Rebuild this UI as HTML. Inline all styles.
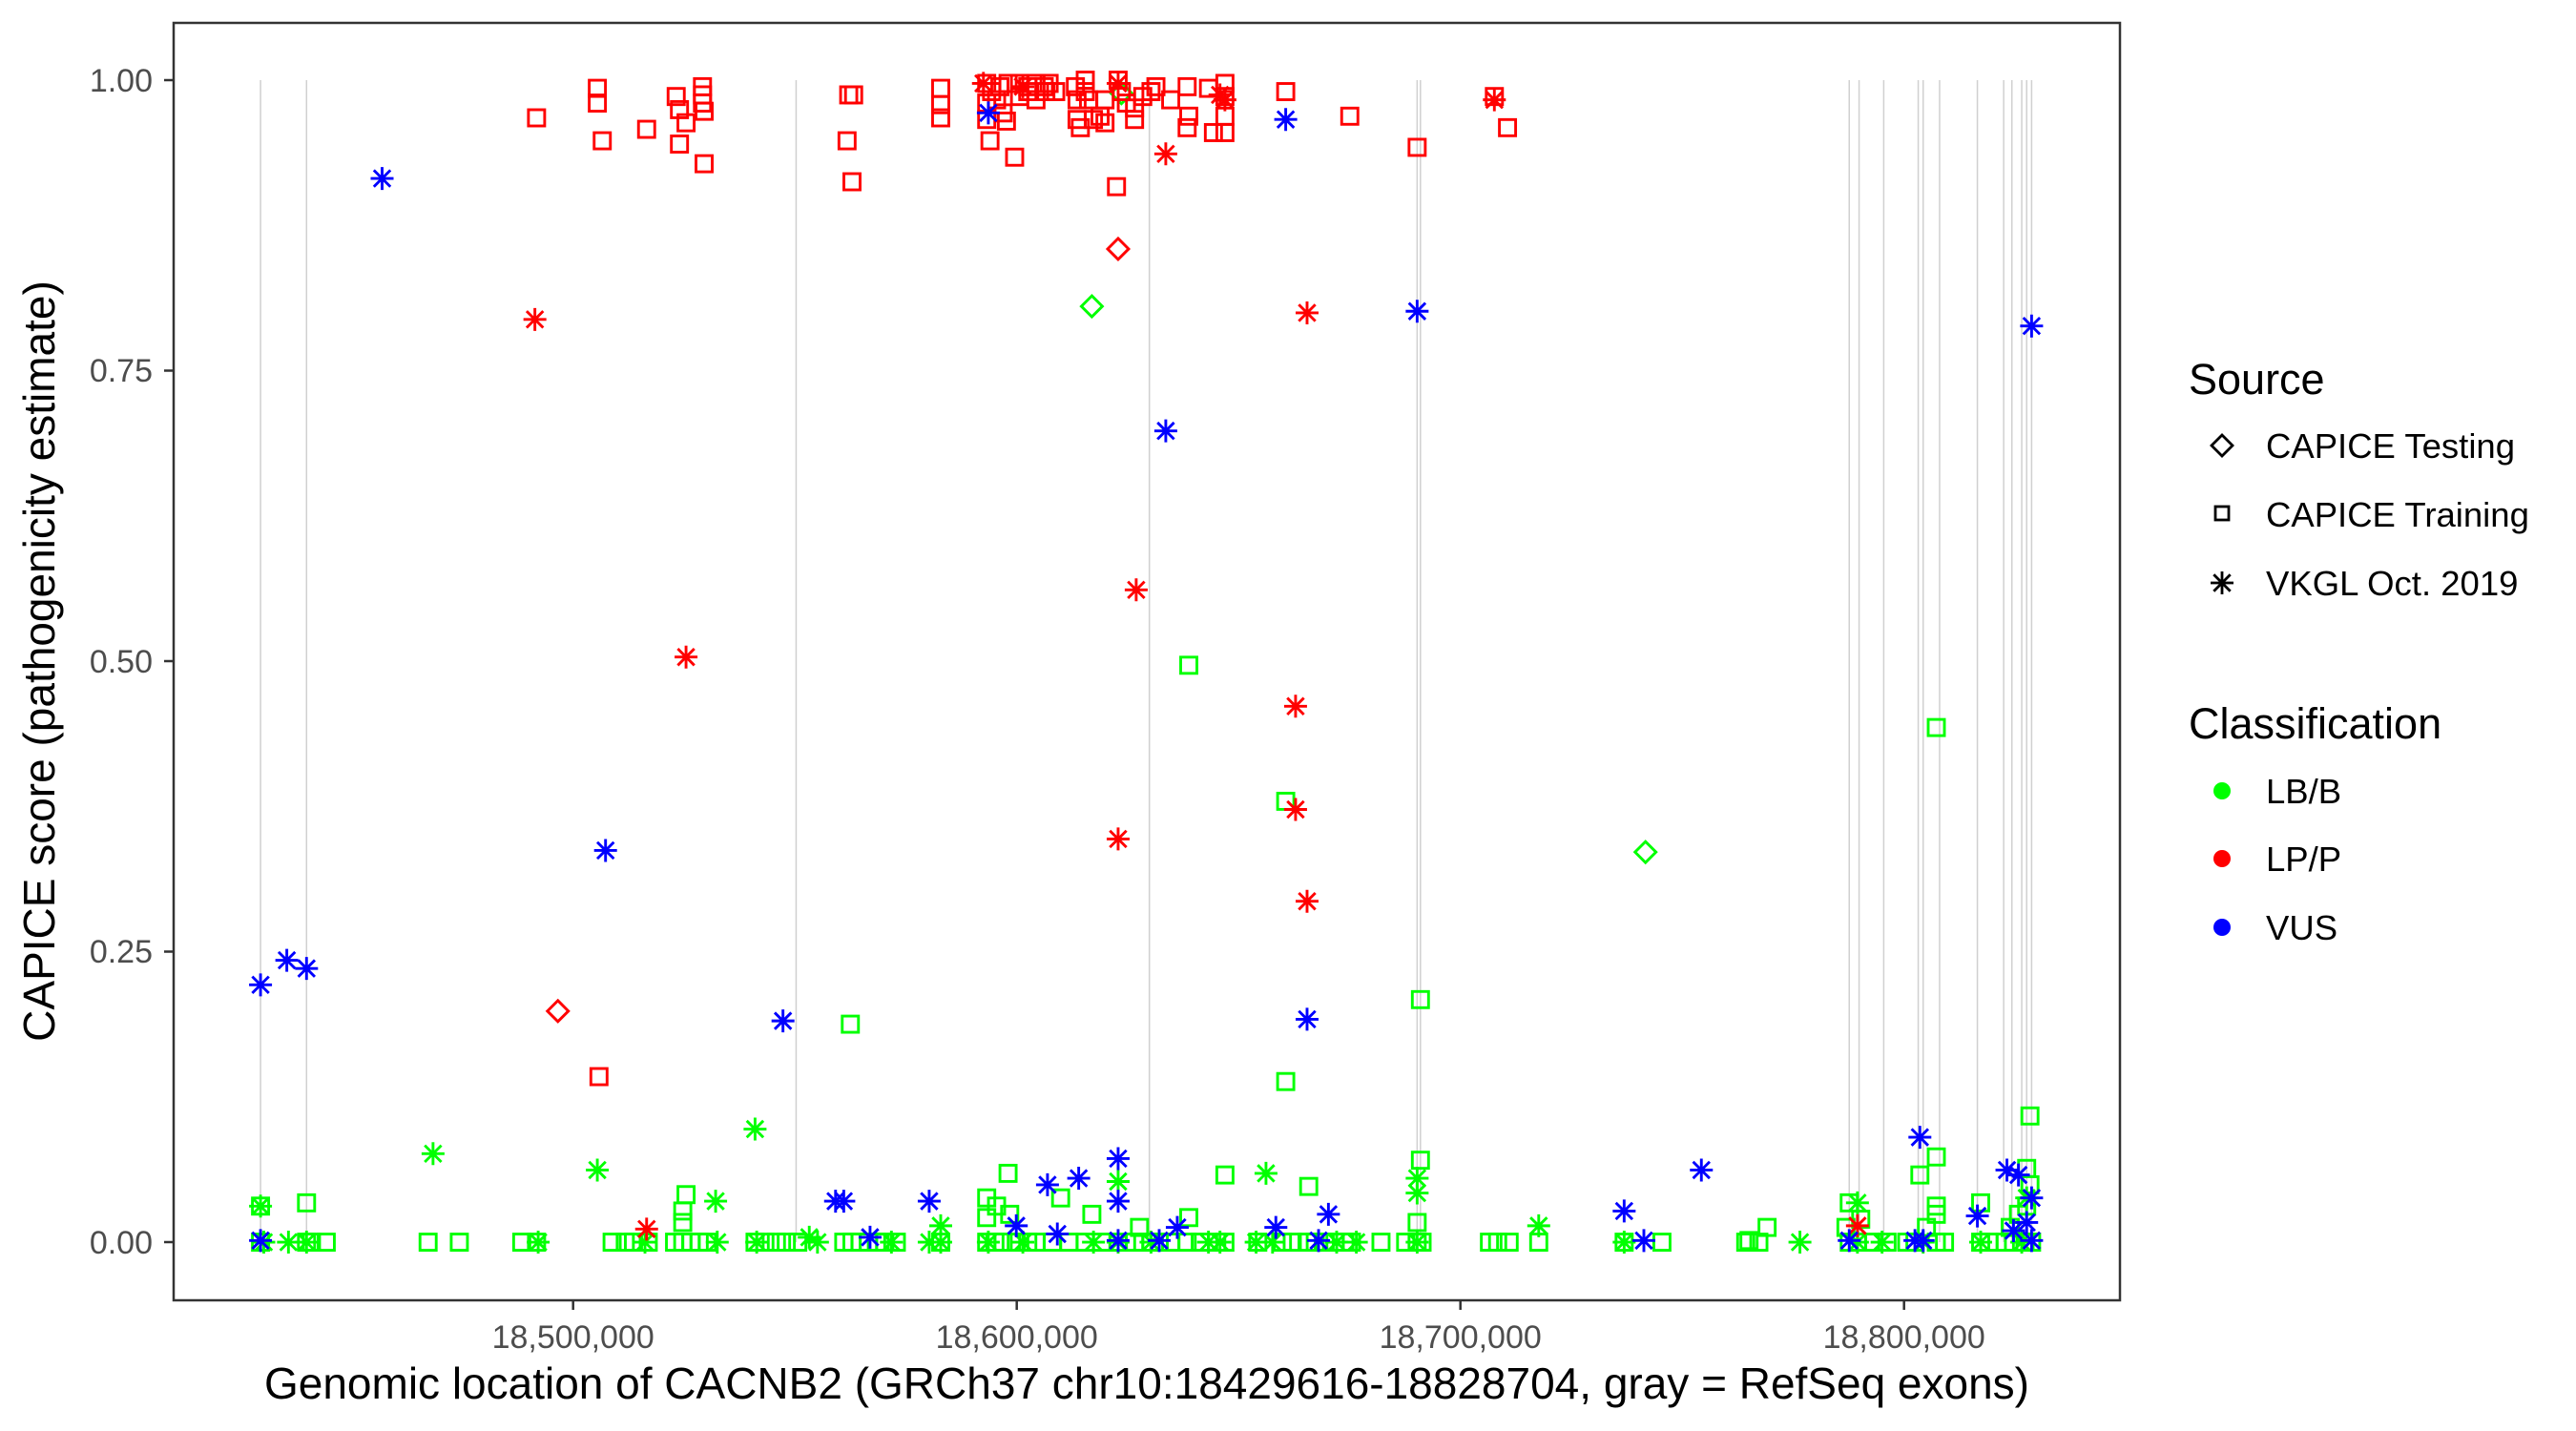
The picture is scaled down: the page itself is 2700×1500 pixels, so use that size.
<!DOCTYPE html>
<html><head><meta charset="utf-8"><style>
html,body{margin:0;padding:0;background:#fff;}
svg{display:block;font-family:"Liberation Sans",Arial,sans-serif;}
</style></head><body>
<svg id="s" width="2700" height="1500" viewBox="0 0 2700 1500" xmlns="http://www.w3.org/2000/svg">
<rect width="2700" height="1500" fill="#fff"/>
<g id="ex" stroke="#d0d0d0" stroke-width="1.5"></g>
<g id="pts" fill="none" stroke-width="2.9"></g>
<rect x="182" y="24" width="2040" height="1339" fill="none" stroke="#333" stroke-width="2.5"/>
<g stroke="#333" stroke-width="2.5">
<line x1="172" y1="84" x2="182" y2="84"/><line x1="172" y1="388.5" x2="182" y2="388.5"/><line x1="172" y1="693" x2="182" y2="693"/><line x1="172" y1="997.5" x2="182" y2="997.5"/><line x1="172" y1="1302" x2="182" y2="1302"/>
<line x1="600.7" y1="1363" x2="600.7" y2="1373"/><line x1="1065.7" y1="1363" x2="1065.7" y2="1373"/><line x1="1530.7" y1="1363" x2="1530.7" y2="1373"/><line x1="1995.7" y1="1363" x2="1995.7" y2="1373"/>
</g>
<g fill="#4d4d4d" font-size="34" text-anchor="end">
<text x="160" y="96">1.00</text><text x="160" y="400">0.75</text><text x="160" y="705">0.50</text><text x="160" y="1009">0.25</text><text x="160" y="1314">0.00</text>
</g>
<g fill="#4d4d4d" font-size="34" text-anchor="middle">
<text x="600.7" y="1413">18,500,000</text><text x="1065.7" y="1413">18,600,000</text><text x="1530.7" y="1413">18,700,000</text><text x="1995.7" y="1413">18,800,000</text>
</g>
<text x="1202" y="1466" font-size="46" text-anchor="middle" fill="#000">Genomic location of CACNB2 (GRCh37 chr10:18429616-18828704, gray = RefSeq exons)</text>
<text transform="translate(57,693) rotate(-90)" font-size="46" text-anchor="middle" fill="#000">CAPICE score (pathogenicity estimate)</text>
<g font-size="45" fill="#000"><text x="2294" y="413">Source</text><text x="2294" y="774">Classification</text></g>
<g font-size="36.5" fill="#000">
<text x="2375" y="480">CAPICE Testing</text><text x="2375" y="552">CAPICE Training</text><text x="2375" y="624">VKGL Oct. 2019</text>
<text x="2375" y="842">LB/B</text><text x="2375" y="913">LP/P</text><text x="2375" y="985">VUS</text>
</g>
<g id="leg" fill="none" stroke="#000" stroke-width="2.8"></g>
<circle cx="2329" cy="829" r="9" fill="#00ff00"/><circle cx="2329" cy="900" r="9" fill="#ff0000"/><circle cx="2329" cy="972" r="9" fill="#0000ff"/>
</svg>
<script>
var NS="http://www.w3.org/2000/svg";
function X(d){return d*1.722+1;}
function Y(d){return 84+(d-48)*1.718;}
function sq(g,x,y,c){var r=document.createElementNS(NS,"rect");r.setAttribute("x",x-8.5);r.setAttribute("y",y-8.5);r.setAttribute("width",17);r.setAttribute("height",17);r.setAttribute("stroke",c);g.appendChild(r);}
function di(g,x,y,c){var p=document.createElementNS(NS,"path");p.setAttribute("d","M"+x+","+(y-11)+"L"+(x+11)+","+y+"L"+x+","+(y+11)+"L"+(x-11)+","+y+"Z");p.setAttribute("stroke",c);g.appendChild(p);}
function as(g,x,y,c){var s=12,t=8.7,d="M"+(x-s)+","+y+"H"+(x+s)+"M"+x+","+(y-s)+"V"+(y+s)+"M"+(x-t)+","+(y-t)+"L"+(x+t)+","+(y+t)+"M"+(x-t)+","+(y+t)+"L"+(x+t)+","+(y-t);var p=document.createElementNS(NS,"path");p.setAttribute("d",d);p.setAttribute("stroke",c);g.appendChild(p);}
var ex=document.getElementById("ex");
[158,186,484,699,862,864,1125,1131,1146,1167,1170,1180,1203,1219,1224,1230,1233,1236].forEach(function(d){var l=document.createElementNS(NS,"line");var x=X(d);l.setAttribute("x1",x);l.setAttribute("x2",x);l.setAttribute("y1",84);l.setAttribute("y2",1302);ex.appendChild(l);});
var g=document.getElementById("pts");
var G="#00ff00",R="#ff0000",B="#0000ff";
var gsq=[[158,735],[186,733],[1178,443],[723,405],[782,488],[782,659],[864,609],[864,707],[517,624],[1235,680],[1168,716],[1178,705],[613,715],[745,716],[796,723],[417,728],[1125,733],[1075,748],[1233,712],[415,745],[415,738],[600,742],[606,735],[614,740],[664,740],[693,748],[723,742],[1172,748],[1178,735],[1205,733],[1228,740],[1223,748],[1123,748],[1132,743],[1064,756],[862,745],[600,730],[1233,735],[1235,722],[1178,740],[645,730]];
[158,186,189,198,260,279,317,326,372,380,385,394,410,415,420,425,430,459,465,472,478,485,513,518,523,528,533,538,545,572,600,605,610,618,625,630,640,650,660,670,680,690,695,700,705,712,722,730,740,745,765,780,786,795,800,806,812,818,822,840,855,862,865,906,911,918,936,988,1011,1062,1070,1125,1130,1140,1148,1160,1165,1178,1183,1205,1210,1220,1225,1232,1236].forEach(function(x){gsq.push([x,757]);});
gsq.forEach(function(p){sq(g,X(p[0]),Y(p[1]),G);});
var gas=[[263,703],[363,713],[459,688],[770,715],[862,718],[862,727],[435,732],[936,747],[1130,733],[572,747],[492,754],[158,735],[680,720],[1233,730]];
[160,175,186,327,392,436,460,497,542,565,572,601,622,665,680,700,735,742,764,774,813,825,862,988,1095,1130,1145,1170,1205,1230].forEach(function(x){gas.push([x,757]);});
gas.forEach(function(p){as(g,X(p[0]),Y(p[1]),G);});
[[664,186],[1001,519],[682,56]].forEach(function(p){di(g,X(p[0]),Y(p[1]),G);});
var rsq=[[363,53],[363,62],[366,85],[326,71],[393,78],[411,58],[413,66],[417,74],[413,87],[427,52],[427,57],[427,62],[428,67],[428,99],[516,57],[519,57],[515,85],[518,110],[572,53],[572,63],[572,71],[602,85],[600,50],[603,55],[606,60],[610,68],[612,73],[617,95],[613,50],[620,50],[625,52],[630,50],[635,52],[638,50],[620,58],[625,55],[630,60],[636,55],[654,52],[655,60],[655,72],[657,77],[660,55],[662,60],[665,72],[669,70],[672,74],[679,113],[680,48],[682,55],[685,62],[690,65],[695,58],[700,55],[703,52],[722,52],[723,70],[722,77],[735,53],[738,80],[745,50],[745,58],[745,70],[782,55],[821,70],[862,89],[917,77],[909,58],[364,656],[600,62],[608,52],[642,55],[660,48],[672,60],[690,72],[712,60],[745,80],[600,72]];
rsq.forEach(function(p){sq(g,X(p[0]),Y(p[1]),R);});
[[325,194],[417,400],[393,749],[680,511],[709,93],[691,359],[788,430],[788,493],[795,190],[795,549],[909,60],[742,57],[1130,747],[598,50],[622,52],[680,50],[745,60]].forEach(function(p){as(g,X(p[0]),Y(p[1]),R);});
[[680,151],[339,616]].forEach(function(p){di(g,X(p[0]),Y(p[1]),R);});
[[232,108],[158,600],[174,585],[186,590],[368,518],[476,622],[601,68],[782,72],[862,189],[709,262],[795,621],[1236,198],[1035,713],[988,738],[1168,693],[1221,713],[1228,716],[1236,730],[508,732],[513,732],[565,732],[656,718],[680,706],[680,732],[637,722],[618,747],[716,748],[776,748],[808,740],[1203,741],[1170,756],[1165,756],[1000,756],[1125,756],[1236,756],[802,756],[705,756],[643,752],[529,754],[158,756],[680,756],[1233,745],[1225,750]].forEach(function(p){as(g,X(p[0]),Y(p[1]),B);});
var lg=document.getElementById("leg");
di(lg,2329,467,"#000");
var r=document.createElementNS(NS,"rect");r.setAttribute("x",2322);r.setAttribute("y",531);r.setAttribute("width",14);r.setAttribute("height",14);r.setAttribute("stroke","#000");lg.appendChild(r);
as(lg,2329,611,"#000");
</script>
</body></html>
